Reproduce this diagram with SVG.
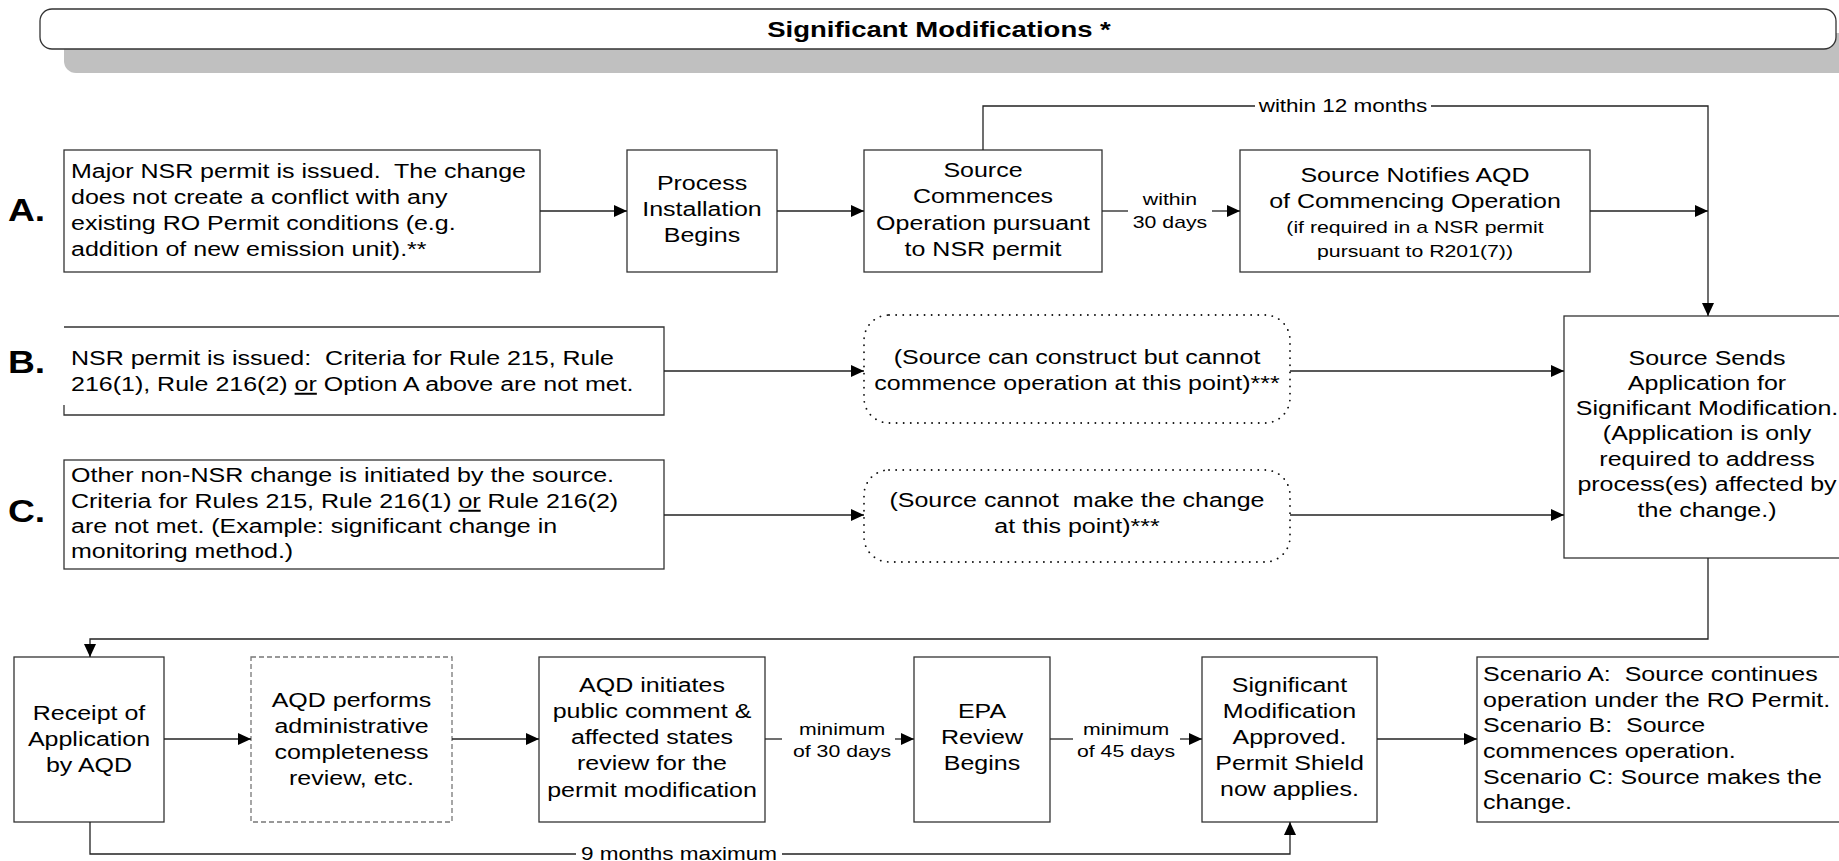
<svg xmlns="http://www.w3.org/2000/svg" width="1839" height="861" viewBox="0 0 1839 861">
<defs>
<style>
.box{fill:#fff;stroke:#333;stroke-width:1.3}
.dash{fill:#fff;stroke:#777;stroke-width:1.3;stroke-dasharray:5 3}
.dot{fill:#fff;stroke:#111;stroke-width:1.8;stroke-dasharray:0.1 7;stroke-linecap:round}
.t{font-family:"Liberation Sans",Arial,sans-serif;font-size:20px;fill:#000}
.s{font-family:"Liberation Sans",Arial,sans-serif;font-size:17px;fill:#000}
.l{font-family:"Liberation Sans",Arial,sans-serif;font-size:18px;fill:#000}
.big{font-family:"Liberation Sans",Arial,sans-serif;font-size:31px;font-weight:bold;fill:#000}
.ttl{font-family:"Liberation Sans",Arial,sans-serif;font-size:22px;font-weight:bold;fill:#000}
.c{text-anchor:middle}
.u{text-decoration:underline}
.con{fill:none;stroke:#222;stroke-width:1.3}
.arr{marker-end:url(#ah)}
</style>
<marker id="ah" viewBox="0 0 13 12" refX="13" refY="6" markerWidth="13" markerHeight="12" orient="auto" markerUnits="userSpaceOnUse"><path d="M0,0L13,6L0,12z" fill="#000"/></marker>
</defs>
<rect x="0" y="0" width="1839" height="861" fill="#fff"/>

<g id="header">
<rect x="64" y="33" width="1800" height="40" rx="12" fill="#c0c0c0"/>
<rect x="40" y="9" width="1796" height="40" rx="12" fill="#fff" stroke="#333" stroke-width="1.3"/>
<text class="ttl c" transform="translate(939 0) scale(1.25 1)" x="0" y="37">Significant Modifications *</text>
</g>

<g id="label-a"><text class="big" transform="translate(8 0) scale(1.2 1)" x="0" y="221">A.</text></g>
<g id="label-b"><text class="big" transform="translate(8 0) scale(1.2 1)" x="0" y="373">B.</text></g>
<g id="label-c"><text class="big" transform="translate(8 0) scale(1.2 1)" x="0" y="522">C.</text></g>

<g id="node-a">
<rect class="box" x="64" y="150" width="476" height="122"/>
<text class="t" transform="translate(71 0) scale(1.25 1)"><tspan x="0" y="178">Major NSR permit is issued.&#160; The change</tspan><tspan x="0" y="204">does not create a conflict with any</tspan><tspan x="0" y="230">existing RO Permit conditions (e.g.</tspan><tspan x="0" y="256">addition of new emission unit).**</tspan></text>
</g>

<g id="node-process">
<rect class="box" x="627" y="150" width="150" height="122"/>
<text class="t c" transform="translate(702 0) scale(1.25 1)"><tspan x="0" y="190">Process</tspan><tspan x="0" y="216">Installation</tspan><tspan x="0" y="242">Begins</tspan></text>
</g>

<g id="node-commences">
<rect class="box" x="864" y="150" width="238" height="122"/>
<text class="t c" transform="translate(983 0) scale(1.25 1)"><tspan x="0" y="177">Source</tspan><tspan x="0" y="203">Commences</tspan><tspan x="0" y="230">Operation pursuant</tspan><tspan x="0" y="256">to NSR permit</tspan></text>
</g>

<g id="node-notifies">
<rect class="box" x="1240" y="150" width="350" height="122"/>
<text class="t c" transform="translate(1415 0) scale(1.25 1)"><tspan x="0" y="182">Source Notifies AQD</tspan><tspan x="0" y="208">of Commencing Operation</tspan></text>
<text class="s c" transform="translate(1415 0) scale(1.25 1)"><tspan x="0" y="233">(if required in a NSR permit</tspan><tspan x="0" y="257">pursuant to R201(7))</tspan></text>
</g>

<g id="node-b">
<path class="box" d="M64 405V415H664V327H64"/>
<text class="t" transform="translate(71 0) scale(1.25 1)"><tspan x="0" y="365">NSR permit is issued:&#160; Criteria for Rule 215, Rule</tspan><tspan x="0" y="391">216(1), Rule 216(2) <tspan class="u">or</tspan> Option A above are not met.</tspan></text>
</g>

<g id="node-c">
<rect class="box" x="64" y="460" width="600" height="109"/>
<text class="t" transform="translate(71 0) scale(1.25 1)"><tspan x="0" y="482">Other non-NSR change is initiated by the source.</tspan><tspan x="0" y="508">Criteria for Rules 215, Rule 216(1) <tspan class="u">or</tspan> Rule 216(2)</tspan><tspan x="0" y="533">are not met. (Example: significant change in</tspan><tspan x="0" y="558">monitoring method.)</tspan></text>
</g>

<g id="node-b2">
<rect class="dot" x="864" y="315" width="426" height="108" rx="25"/>
<text class="t c" transform="translate(1077 0) scale(1.25 1)"><tspan x="0" y="364">(Source can construct but cannot</tspan><tspan x="0" y="390">commence operation at this point)***</tspan></text>
</g>

<g id="node-c2">
<rect class="dot" x="864" y="470" width="426" height="92" rx="25"/>
<text class="t c" transform="translate(1077 0) scale(1.25 1)"><tspan x="0" y="507">(Source cannot&#160; make the change</tspan><tspan x="0" y="533">at this point)***</tspan></text>
</g>

<g id="node-sends">
<rect class="box" x="1564" y="316" width="280" height="242"/>
<text class="t c" transform="translate(1707 0) scale(1.25 1)"><tspan x="0" y="365">Source Sends</tspan><tspan x="0" y="390">Application for</tspan><tspan x="0" y="415">Significant Modification.</tspan><tspan x="0" y="440">(Application is only</tspan><tspan x="0" y="466">required to address</tspan><tspan x="0" y="491">process(es) affected by</tspan><tspan x="0" y="517">the change.)</tspan></text>
</g>

<g id="node-receipt">
<rect class="box" x="14" y="657" width="150" height="165"/>
<text class="t c" transform="translate(89 0) scale(1.25 1)"><tspan x="0" y="720">Receipt of</tspan><tspan x="0" y="746">Application</tspan><tspan x="0" y="772">by AQD</tspan></text>
</g>

<g id="node-admin">
<rect class="dash" x="251" y="657" width="201" height="165"/>
<text class="t c" transform="translate(351.5 0) scale(1.25 1)"><tspan x="0" y="707">AQD performs</tspan><tspan x="0" y="733">administrative</tspan><tspan x="0" y="759">completeness</tspan><tspan x="0" y="785">review, etc.</tspan></text>
</g>

<g id="node-public">
<rect class="box" x="539" y="657" width="226" height="165"/>
<text class="t c" transform="translate(652 0) scale(1.25 1)"><tspan x="0" y="692">AQD initiates</tspan><tspan x="0" y="718">public comment &amp;</tspan><tspan x="0" y="744">affected states</tspan><tspan x="0" y="770">review for the</tspan><tspan x="0" y="797">permit modification</tspan></text>
</g>

<g id="node-epa">
<rect class="box" x="914" y="657" width="136" height="165"/>
<text class="t c" transform="translate(982 0) scale(1.25 1)"><tspan x="0" y="718">EPA</tspan><tspan x="0" y="744">Review</tspan><tspan x="0" y="770">Begins</tspan></text>
</g>

<g id="node-approved">
<rect class="box" x="1202" y="657" width="175" height="165"/>
<text class="t c" transform="translate(1289.5 0) scale(1.25 1)"><tspan x="0" y="692">Significant</tspan><tspan x="0" y="718">Modification</tspan><tspan x="0" y="744">Approved.</tspan><tspan x="0" y="770">Permit Shield</tspan><tspan x="0" y="796">now applies.</tspan></text>
</g>

<g id="node-scenario">
<rect class="box" x="1477" y="657" width="370" height="165"/>
<text class="t" transform="translate(1483 0) scale(1.25 1)"><tspan x="0" y="681">Scenario A:&#160; Source continues</tspan><tspan x="0" y="707">operation under the RO Permit.</tspan><tspan x="0" y="732">Scenario B:&#160; Source</tspan><tspan x="0" y="758">commences operation.</tspan><tspan x="0" y="784">Scenario C: Source makes the</tspan><tspan x="0" y="809">change.</tspan></text>
</g>

<g id="connectors">
<path class="con arr" d="M540 211H627"/>
<path class="con arr" d="M777 211H864"/>
<path class="con" d="M1102 211H1128"/>
<path class="con arr" d="M1212 211H1240"/>
<path class="con arr" d="M1590 211H1708"/>
<path class="con" d="M983 150V106H1255"/>
<path class="con arr" d="M1431 106H1708V316"/>
<path class="con arr" d="M664 371H864"/>
<path class="con arr" d="M1290 371H1564"/>
<path class="con arr" d="M664 515H864"/>
<path class="con arr" d="M1290 515H1564"/>
<path class="con arr" d="M1708 558V639H90V657"/>
<path class="con arr" d="M164 739H251"/>
<path class="con arr" d="M452 739H539"/>
<path class="con" d="M765 739H782"/>
<path class="con arr" d="M895 739H914"/>
<path class="con" d="M1050 739H1073"/>
<path class="con arr" d="M1180 739H1202"/>
<path class="con arr" d="M1377 739H1477"/>
<path class="con" d="M90 822V854H576"/>
<path class="con arr" d="M782 854H1290V822"/>
<text class="s c" transform="translate(1170 0) scale(1.25 1)"><tspan x="0" y="205">within</tspan><tspan x="0" y="228">30 days</tspan></text>
<text class="l c" transform="translate(1343 0) scale(1.25 1)" x="0" y="112">within 12 months</text>
<text class="s c" transform="translate(842 0) scale(1.25 1)"><tspan x="0" y="735">minimum</tspan><tspan x="0" y="757">of 30 days</tspan></text>
<text class="s c" transform="translate(1126 0) scale(1.25 1)"><tspan x="0" y="735">minimum</tspan><tspan x="0" y="757">of 45 days</tspan></text>
<text class="l c" transform="translate(679 0) scale(1.25 1)" x="0" y="860">9 months maximum</text>
</g>
</svg>
